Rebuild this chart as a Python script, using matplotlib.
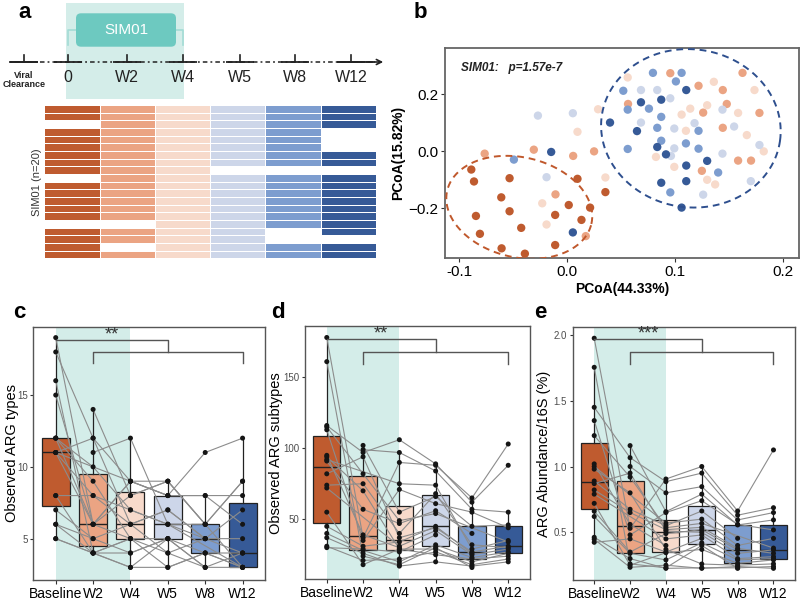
import numpy as np
import matplotlib
matplotlib.use("Agg")
import matplotlib.pyplot as plt
from matplotlib.colors import ListedColormap
from matplotlib.patches import Rectangle, FancyBboxPatch

plt.rcParams['font.family'] = ['Liberation Sans', 'DejaVu Sans']

# ---------------- data ----------------
timepoints = ["Baseline", "W2", "W4", "W5", "W8", "W12"]
group_colors = ["#BF5B2F", "#EBA483", "#F7DACB", "#CDD6E9", "#7D9DCF", "#365A97"]
timeline_labels = ["0", "W2", "W4", "W5", "W8", "W12"]

# sample availability, 20 subjects x 6 timepoints
sample_presence = [
    [1, 1, 1, 1, 1, 1], [1, 1, 1, 1, 1, 1], [0, 1, 1, 1, 1, 1], [1, 1, 1, 1, 1, 0],
    [1, 1, 1, 1, 1, 0], [1, 1, 1, 1, 1, 0], [1, 1, 1, 1, 1, 1], [1, 1, 1, 1, 1, 1],
    [1, 1, 1, 0, 0, 0], [0, 1, 1, 1, 1, 1], [1, 1, 1, 1, 1, 1], [1, 1, 1, 1, 1, 1],
    [1, 1, 1, 1, 1, 1], [1, 1, 1, 1, 1, 1], [1, 1, 1, 1, 1, 1], [0, 0, 1, 1, 1, 1],
    [1, 1, 1, 1, 0, 1], [1, 1, 1, 1, 0, 0], [1, 0, 1, 1, 1, 1], [1, 1, 1, 1, 1, 1],
]

# PCoA coordinates per group
pcoa_baseline_x = [-0.0889, -0.0864, -0.0534, -0.0611, -0.0534, -0.0846, -0.0809, -0.0426, -0.0608, -0.0392, -0.0111, -0.0111, 0.0015, 0.0096, 0.0213, 0.0133, 0.0355]
pcoa_baseline_y = [-0.0638, -0.1056, -0.0941, -0.1613, -0.2101, -0.2265, -0.2892, -0.2683, -0.3401, -0.3589, -0.3286, -0.2230, -0.1882, -0.0963, -0.1973, -0.2404, -0.1429]
pcoa_w2_x = [-0.0765, -0.0309, 0.0056, 0.0250, -0.0108, 0.0173, 0.0957, 0.1219, 0.1444, 0.1481, 0.1262, 0.1784, 0.1444, 0.1586, 0.1706, 0.1250, 0.1627, 0.0565]
pcoa_w2_y = [-0.0080, 0.0059, -0.0160, 0.0, -0.1509, -0.2972, 0.2742, 0.2300, 0.2150, 0.1662, 0.1359, 0.1348, 0.0826, -0.0324, -0.0324, -0.0683, 0.2753, 0.1662]
pcoa_w4_x = [0.0096, 0.0287, 0.0355, -0.0231, -0.0191, 0.0562, 0.1361, 0.1738, 0.1299, 0.1142, 0.1062, 0.1586, 0.1102, 0.1667, 0.1824, 0.0824, 0.0994, 0.1299, 0.1373]
pcoa_w4_y = [0.0686, 0.1477, -0.0916, -0.1822, -0.2565, 0.2592, 0.2439, 0.2150, 0.1617, 0.1498, 0.1289, 0.1348, 0.0721, 0.0571, 0.0, -0.0195, -0.0544, -0.0997, -0.1160]
pcoa_w5_x = [-0.0271, 0.0053, -0.0191, 0.0685, 0.0836, 0.0957, 0.0685, 0.0994, 0.1182, 0.1441, 0.1549, 0.0994, 0.1441, 0.1784, 0.1704, 0.1262, 0.0963]
pcoa_w5_y = [0.1254, 0.1338, -0.0906, 0.2150, 0.2150, 0.1861, 0.1010, 0.0801, 0.0990, 0.1463, 0.0871, 0.0105, -0.0080, 0.0223, -0.1045, -0.1519, -0.0160]
pcoa_w8_x = [-0.0494, 0.0796, 0.1062, 0.1009, 0.0521, 0.0562, 0.0759, 0.0873, 0.0836, 0.1219, 0.0873, 0.0562, 0.1102, 0.1219, 0.1401, 0.0957]
pcoa_w8_y = [-0.0289, 0.2753, 0.2753, 0.2453, 0.2125, 0.1463, 0.1498, 0.1209, 0.0826, 0.0721, 0.0373, 0.0084, 0.0279, 0.0094, -0.0742, -0.1439]
pcoa_w12_x = [-0.0148, 0.0053, 0.1105, 0.0873, 0.0685, 0.0398, 0.0648, 0.0836, 0.0917, 0.1299, 0.1105, 0.0873, 0.1105, 0.1062]
pcoa_w12_y = [-0.0021, -0.2843, 0.2150, 0.1812, 0.1721, 0.1010, 0.0711, 0.0153, -0.0105, -0.0334, -0.0498, -0.1101, -0.1045, -0.1972]

N = None
# Observed ARG types (per subject, per timepoint)
types_baseline = [19, 12, N, 16, 7, 11, 5, 18, 12, N, 6, 15, 11, 8, 6, 11, 12, 5, 8, 11]
types_w2 = [6, 9, 14, 4, 5, 8, 4, 12, 6, 11, 4, 6, 12, 4, 5, N, 10, 4, 8, 6]
types_w4 = [9, 5, 8, 3, 6, 7, 4, 9, 5, 12, 3, 8, 6, 5, 4, 9, 7, 5, 6, 9]
types_w5 = [8, 3, 9, 5, 4, 6, 5, 8, N, 6, 3, 9, 7, 4, 5, 8, 6, 5, 7, 9]
types_w8 = [11, 4, 6, 3, 5, 6, 3, 8, N, 5, 4, 6, 5, 3, 4, 8, N, N, 5, 6]
types_w12 = [12, 3, 9, N, N, N, 4, 8, N, 7, 3, 9, 5, 3, 4, 6, 3, N, 4, 3]

# Observed ARG subtypes
sub_baseline = [178, 94, N, 161, 45, 91, 31, 116, 95, N, 37, 113, 82, 55, 40, 92, 115, 30, 72, 74]
sub_w2 = [37, 70, 102, 24, 31, 57, 21, 97, 39, 99, 26, 35, 94, 18, 28, N, 82, 29, N, 75]
sub_w4 = [90, 29, 55, 18, 34, 47, 22, 106, 30, 97, 17, 71, 37, 29, 20, 75, 49, 27, 31, 40]
sub_w5 = [88, 25, 66, 30, 45, 56, 27, 89, N, 84, 20, 61, 44, 29, 32, 74, 54, 39, 42, 68]
sub_w8 = [65, 22, 45, 16, 26, 40, 18, 62, N, 57, 17, 55, 27, 20, 23, 29, N, N, 25, 32]
sub_w12 = [103, 24, 46, N, N, N, 22, 88, N, 55, 20, 44, 31, 26, 27, 35, 34, N, 29, 30]

# ARG abundance / 16S (%)
abd_baseline = [1.975, 0.98, N, 1.754, 0.66, 0.89, 0.447, 1.45, 1.02, N, 0.462, 1.349, 0.87, 0.72, 0.62, 1.0, 1.235, 0.424, 0.79, 0.822]
abd_w2 = [0.53, 0.8, 1.159, 0.26, 0.35, 0.675, 0.234, 1.067, 0.56, 1.0, 0.3, 0.48, 0.95, 0.25, 0.34, N, 0.92, 0.45, N, 0.65]
abd_w4 = [0.905, 0.37, 0.657, 0.23, 0.49, 0.55, 0.25, 0.885, 0.40, 0.80, 0.226, 0.65, 0.51, 0.345, 0.29, 0.57, 0.535, 0.35, 0.45, 0.52]
abd_w5 = [1.0, 0.259, 0.79, 0.40, 0.52, 0.662, 0.226, 0.95, N, 0.847, 0.23, 0.74, 0.50, 0.37, 0.42, 0.60, 0.568, 0.454, 0.48, 0.538]
abd_w8 = [0.662, 0.25, 0.556, 0.226, 0.366, 0.454, 0.24, 0.63, N, 0.594, 0.23, 0.56, 0.34, 0.264, 0.29, 0.40, N, N, 0.30, 0.378]
abd_w12 = [1.126, 0.26, 0.594, N, N, N, 0.226, 0.687, N, 0.65, 0.24, 0.518, 0.366, 0.29, 0.30, 0.454, 0.38, N, 0.315, 0.34]

# ---------------- figure ----------------
fig = plt.figure(figsize=(8.0, 6.01), dpi=100)
W, H = 800.0, 601.0

def px_axes(x0, y0, x1, y1):
    return fig.add_axes([x0 / W, 1 - y1 / H, (x1 - x0) / W, (y1 - y0) / H])

# overlay in pixel coordinates
bg = fig.add_axes([0, 0, 1, 1])
bg.set_xlim(0, W); bg.set_ylim(H, 0); bg.axis('off')

teal_light = "#D4EDE9"
# panel a: treatment window + SIM01 box
bg.add_patch(Rectangle((66, 3), 118, 96, color=teal_light, lw=0, zorder=0))
bg.add_patch(FancyBboxPatch((76, 13.3), 100, 33.4, boxstyle="round,pad=0,rounding_size=5",
                            fc="#6DC9C0", ec="none", zorder=2))
bg.text(126, 30, "SIM01", color="white", fontsize=11, ha="center", va="center", zorder=3)
bcol = "#A3DCD5"
bg.plot([68, 68, 76], [45, 30, 30], color=bcol, lw=1.2, zorder=1)
bg.plot([176, 182.5, 182.5], [30, 30, 45], color=bcol, lw=1.2, zorder=1)

# timeline
tick_x = [24, 68, 126.5, 182.5, 240, 295, 351]
ty = 62
bg.plot([10, 380], [ty, ty], color="#222222", lw=1.1, ls=(0, (1.2, 2.0, 3.0, 2.0)), zorder=3)
for tx in tick_x:
    bg.plot([tx - 14, tx + 14], [ty, ty], color="#222222", lw=1.3, zorder=4, solid_capstyle='butt')
    bg.plot([tx, tx], [ty - 7, ty], color="#222222", lw=1.2, zorder=4)
bg.plot([10, 37], [ty, ty], color="#222222", lw=1.3, zorder=4)
bg.plot([338, 372], [ty, ty], color="#222222", lw=1.3, zorder=4)
bg.annotate("", xy=(386, ty), xytext=(366, ty),
            arrowprops=dict(arrowstyle="->", color="#222222", lw=1.2, mutation_scale=9))
bg.text(tick_x[0], 80, "Viral\nClearance", fontsize=6.5, fontweight="bold", ha="center",
        va="center", linespacing=1.1, color="#222222")
for tx, lab in zip(tick_x[1:], timeline_labels):
    bg.text(tx, 77.5, lab, fontsize=11.5, ha="center", va="center", color="#222222")

# heatmap of samples
ax_h = px_axes(44.3, 105, 376, 258.3)
pres = np.array(sample_presence, dtype=float)
Z = np.where(pres > 0, np.arange(6)[None, :], np.nan)
ax_h.pcolormesh(np.arange(7), np.arange(21), np.ma.masked_invalid(Z),
                cmap=ListedColormap(group_colors), vmin=-0.5, vmax=5.5,
                edgecolors="white", linewidth=0.6)
ax_h.set_xlim(0, 6); ax_h.set_ylim(20, 0); ax_h.axis('off')
bg.text(37, 182, "SIM01 (n=20)", rotation=90, fontsize=8, ha="center", va="center", color="#333333")

# panel labels
for lab, (lx, ly) in zip("abcde", [(25, 13), (420, 13), (19, 313), (278, 312), (540, 312)]):
    bg.text(lx, ly, lab, fontsize=16, fontweight="bold", ha="center", va="center")

# ---------------- panel b ----------------
ax_b = px_axes(445, 48, 799, 258)
ax_b.set_xlim(-0.1133, 0.2151)
ax_b.set_ylim(-0.374, 0.3625)
pcoa_groups = [(pcoa_baseline_x, pcoa_baseline_y), (pcoa_w2_x, pcoa_w2_y), (pcoa_w4_x, pcoa_w4_y),
               (pcoa_w5_x, pcoa_w5_y), (pcoa_w8_x, pcoa_w8_y), (pcoa_w12_x, pcoa_w12_y)]
for (gx, gy), col in zip(pcoa_groups, group_colors):
    ax_b.scatter(gx, gy, s=36, color=col, edgecolors="none", zorder=3)

def draw_ellipse(ax, cx, cy, a, b, ang, color):
    t = np.linspace(0, 2 * np.pi, 400)
    c0 = ax.transData.transform((cx, cy))
    th = np.deg2rad(ang)
    px = a * np.cos(t) * np.cos(th) - b * np.sin(t) * np.sin(th)
    py = a * np.cos(t) * np.sin(th) + b * np.sin(t) * np.cos(th)
    pts = ax.transData.inverted().transform(np.column_stack([c0[0] + px, c0[1] + py]))
    ax.plot(pts[:, 0], pts[:, 1], ls=(0, (3.5, 2.5)), color=color, lw=1.4, zorder=4)

draw_ellipse(ax_b, -0.0444, -0.1962, 74, 50, -13, "#C0582C")
draw_ellipse(ax_b, 0.1148, 0.0808, 90, 79, -8, "#2E4F8E")
ax_b.set_xticks([-0.1, 0.0, 0.1, 0.2]); ax_b.set_xticklabels(["-0.1", "0.0", "0.1", "0.2"])
ax_b.set_yticks([-0.2, 0.0, 0.2]); ax_b.set_yticklabels(["\u22120.2", "0.0", "0.2"])
ax_b.tick_params(labelsize=11, length=3, color="#333333", labelcolor="black", pad=2)
ax_b.set_xlabel("PCoA(44.33%)", fontsize=10, fontweight="bold", labelpad=2)
ax_b.set_ylabel("PCoA(15.82%)", fontsize=10, fontweight="bold", labelpad=2)
ax_b.text(0.045, 0.905, "SIM01:   p=1.57e-7", transform=ax_b.transAxes, fontsize=8.5,
          fontweight="bold", fontstyle="italic", va="center", color="#222222")
for sp in ax_b.spines.values():
    sp.set_color("#666666"); sp.set_linewidth(1.3)

# ---------------- panels c, d, e ----------------
def box_panel(ax, series, ylim, yticks, yticklabels, ylabel, br, stars, label_x):
    ax.set_xlim(0.4, 6.6)
    ax.set_ylim(*ylim)
    ax.axvspan(1, 3, color=teal_light, lw=0, zorder=0)
    for i, (vals, col) in enumerate(zip(series, group_colors)):
        v = [x for x in vals if x is not None]
        ax.boxplot(v, positions=[i + 1], widths=0.75, patch_artist=True, showfliers=False,
                   showcaps=False, whis=1.5,
                   boxprops=dict(facecolor=col, edgecolor="#222222", linewidth=0.9),
                   medianprops=dict(color="#222222", linewidth=1.0),
                   whiskerprops=dict(color="#222222", linewidth=0.9), zorder=2)
    nsub = len(series[0])
    for s in range(nsub):
        xs = [i + 1 for i in range(6) if series[i][s] is not None]
        ys = [series[i][s] for i in range(6) if series[i][s] is not None]
        ax.plot(xs, ys, color="#8C8C8C", lw=0.8, zorder=3)
        ax.scatter(xs, ys, s=13, color="#151515", zorder=4, edgecolors="none")
    up, low, tip = br
    bc = "#555555"
    ax.plot([1, 4, 4], [up, up, low], color=bc, lw=1.0, zorder=5)
    ax.plot([2, 2, 6, 6], [tip, low, low, tip], color=bc, lw=1.0, zorder=5)
    ax.annotate(stars, xy=(2.5, up), xytext=(0, -2.5), textcoords="offset points",
                ha="center", va="bottom", fontsize=13, color="#333333")
    ax.set_xticks(range(1, 7)); ax.set_xticklabels(timepoints)
    ax.set_yticks(yticks); ax.set_yticklabels(yticklabels)
    ax.tick_params(axis="x", labelsize=10, length=3, color="#333333", labelcolor="black", pad=2)
    ax.tick_params(axis="y", labelsize=7, length=2.5, color="#333333", labelcolor="#4D4D4D", pad=1.5)
    ax.set_ylabel(ylabel, fontsize=10.5)
    ax.yaxis.set_label_coords(label_x, 0.5)
    ax.yaxis.label.set_va("center")
    for sp in ax.spines.values():
        sp.set_color("#555555"); sp.set_linewidth(1.0)

ax_c = px_axes(33.3, 326.7, 265, 580)
box_panel(ax_c, [types_baseline, types_w2, types_w4, types_w5, types_w8, types_w12],
          (2.12, 19.76), [5, 10, 15], ["5", "10", "15"], "Observed ARG types",
          (18.85, 18.0, 17.2), "**", (11.5 - 33.3) / 231.7)

ax_d = px_axes(305, 326, 530, 579.3)
box_panel(ax_d, [sub_baseline, sub_w2, sub_w4, sub_w5, sub_w8, sub_w12],
          (7.7, 186.1), [50, 100, 150], ["50", "100", "150"], "Observed ARG subtypes",
          (176.8, 168.1, 159.4), "**", (276 - 305) / 225.0)

ax_e = px_axes(572.7, 327.3, 795, 580)
box_panel(ax_e, [abd_baseline, abd_w2, abd_w4, abd_w5, abd_w8, abd_w12],
          (0.1375, 2.058), [0.5, 1.0, 1.5, 2.0], ["0.5", "1.0", "1.5", "2.0"],
          "ARG Abundance/16S (%)", (1.967, 1.873, 1.779), "***", (544 - 572.7) / 222.3)

fig.savefig("out.png", dpi=100)
